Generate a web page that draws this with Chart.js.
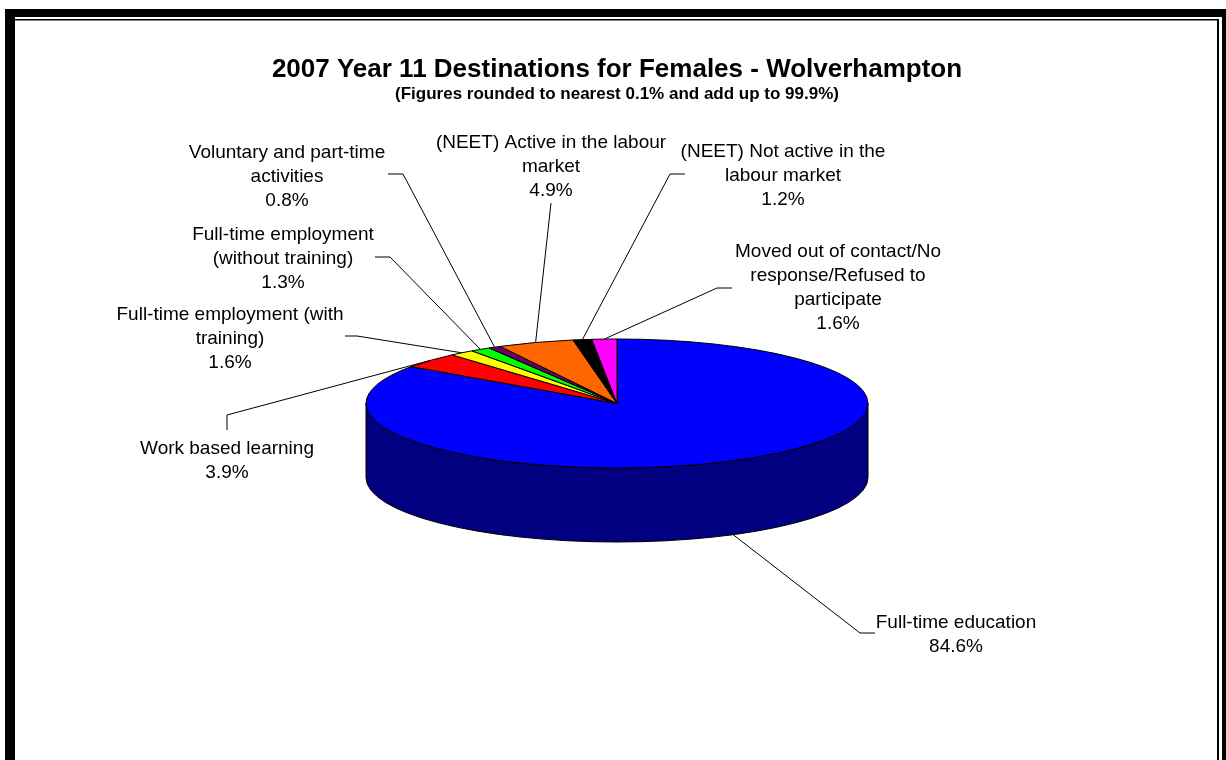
<!DOCTYPE html>
<html>
<head>
<meta charset="utf-8">
<script src="https://cdn.jsdelivr.net/npm/chart.js@4.4.1/dist/chart.umd.min.js"></script>
<style>
  html, body { margin: 0; padding: 0; background: #fff; }
  #destChart { display: block; }
</style>
</head>
<body>
<canvas id="destChart" width="1226" height="760"></canvas>
<script>
// data
var categories = [
    'Full-time education',
    'Work based learning',
    'Full-time employment (with training)',
    'Full-time employment (without training)',
    'Voluntary and part-time activities',
    '(NEET) Active in the labour market',
    '(NEET) Not active in the labour market',
    'Moved out of contact/No response/Refused to participate'
];
var percentages = [84.6, 3.9, 1.6, 1.3, 0.8, 4.9, 1.2, 1.6];
// how each category name wraps in its data label
var labelLines = [
    ['Full-time education'],
    ['Work based learning'],
    ['Full-time employment (with', 'training)'],
    ['Full-time employment', '(without training)'],
    ['Voluntary and part-time', 'activities'],
    ['(NEET) Active in the labour', 'market'],
    ['(NEET) Not active in the', 'labour market'],
    ['Moved out of contact/No', 'response/Refused to', 'participate']
];

var topColors = ['#0000ff', '#ff0000', '#ffff00', '#00ff00', '#660066', '#ff6600', '#000000', '#ff00ff'];
var sideColors = ['#000080', '#800000', '#808000', '#008000', '#330033', '#803300', '#000000', '#800080'];

// where each data label sits: text centre, first line y, leader elbow and tail
var labelLayout = [
    { x: 956, y: 623, elbow: [860, 633], tail: [875, 633] },
    { x: 227, y: 449, elbow: [227, 415], tail: [227, 430] },
    { x: 230, y: 315, elbow: [357, 336], tail: [345, 336] },
    { x: 283, y: 235, elbow: [390, 257], tail: [375, 257] },
    { x: 287, y: 153, elbow: [403, 174], tail: [388, 174] },
    { x: 551, y: 143, elbow: [551, 203], tail: [551, 203] },
    { x: 783, y: 152, elbow: [670, 174], tail: [685, 174] },
    { x: 838, y: 252, elbow: [717, 288], tail: [732, 288] }
];

var labelFont = '19px "Liberation Sans", Arial, sans-serif';
var lineStep = 24;

// frame like the exported Excel chart area
var framePlugin = {
    id: 'frame',
    beforeDraw: function(chart) {
        var ctx = chart.ctx;
        ctx.save();
        ctx.fillStyle = '#000';
        ctx.fillRect(5, 9, 1221, 751);
        ctx.fillStyle = '#fff';
        ctx.fillRect(15, 17, 1207, 743);
        ctx.fillStyle = '#000';
        ctx.fillRect(15, 19, 1204, 1.5);
        ctx.fillRect(1217, 19, 2, 741);
        ctx.restore();
    }
};

// draws the pie arcs as a tilted 3D pie, then the data labels
var pie3dPlugin = {
    id: 'pie3d',
    beforeDatasetDraw: function(chart, args, opts) {
        var ctx = chart.ctx;
        var arcs = args.meta.data;
        var tilt = opts.tilt, depth = opts.depth;
        ctx.save();
        ctx.lineWidth = 1;
        ctx.strokeStyle = '#000';
        ctx.lineJoin = 'round';

        // outer wall, only the front half shows
        arcs.forEach(function(a, i) {
            var s = Math.max(a.startAngle, 0);
            var e = Math.min(a.endAngle, Math.PI);
            if (e <= s) return;
            var rx = a.outerRadius, ry = a.outerRadius * tilt;
            ctx.beginPath();
            ctx.ellipse(a.x, a.y, rx, ry, 0, s, e, false);
            ctx.ellipse(a.x, a.y + depth, rx, ry, 0, e, s, true);
            ctx.closePath();
            ctx.fillStyle = sideColors[i];
            ctx.fill();
            ctx.stroke();
        });

        // top faces
        arcs.forEach(function(a, i) {
            var rx = a.outerRadius, ry = a.outerRadius * tilt;
            ctx.beginPath();
            ctx.moveTo(a.x, a.y);
            ctx.ellipse(a.x, a.y, rx, ry, 0, a.startAngle, a.endAngle, false);
            ctx.closePath();
            ctx.fillStyle = topColors[i];
            ctx.fill();
            ctx.stroke();
        });
        ctx.restore();
        return false;
    },
    afterDatasetsDraw: function(chart, args, opts) {
        var ctx = chart.ctx;
        var arcs = chart.getDatasetMeta(0).data;
        ctx.save();
        ctx.strokeStyle = '#000';
        ctx.lineWidth = 1;
        ctx.fillStyle = '#000';
        ctx.font = labelFont;
        ctx.textAlign = 'center';
        ctx.textBaseline = 'middle';
        arcs.forEach(function(a, i) {
            var mid = (a.startAngle + a.endAngle) / 2;
            var px = a.x + Math.cos(mid) * a.outerRadius;
            var py = a.y + Math.sin(mid) * a.outerRadius * opts.tilt;
            if (Math.sin(mid) > 0) py += opts.depth;
            var lay = labelLayout[i];
            ctx.beginPath();
            ctx.moveTo(lay.tail[0], lay.tail[1]);
            ctx.lineTo(lay.elbow[0], lay.elbow[1]);
            ctx.lineTo(px, py);
            ctx.stroke();

            var lines = labelLines[i].concat([percentages[i].toFixed(1) + '%']);
            lines.forEach(function(t, k) {
                ctx.fillText(t, lay.x, lay.y + k * lineStep);
            });
        });
        ctx.restore();
    }
};

var ctx = document.getElementById('destChart').getContext('2d');
var chart = new Chart(ctx, {
    type: 'pie',
    data: {
        labels: categories,
        datasets: [{
            data: percentages,
            backgroundColor: topColors,
            borderColor: '#000',
            borderWidth: 1,
            radius: 251
        }]
    },
    options: {
        responsive: false,
        animation: false,
        devicePixelRatio: 1,
        events: [],
        layout: { padding: { top: 0, bottom: 56, left: 8, right: 0 } },
        plugins: {
            legend: { display: false },
            tooltip: { enabled: false },
            title: {
                display: true,
                text: '2007 Year 11 Destinations for Females - Wolverhampton',
                color: '#000',
                font: { family: '"Liberation Sans", Arial, sans-serif', size: 26, weight: 'bold', lineHeight: 1 },
                padding: { top: 57, bottom: 3 }
            },
            subtitle: {
                display: true,
                text: '(Figures rounded to nearest 0.1% and add up to 99.9%)',
                color: '#000',
                font: { family: '"Liberation Sans", Arial, sans-serif', size: 17, weight: 'bold', lineHeight: 1 },
                padding: { top: 0, bottom: 0 }
            },
            pie3d: { tilt: 0.257, depth: 74 }
        }
    },
    plugins: [framePlugin, pie3dPlugin]
});
</script>
</body>
</html>
